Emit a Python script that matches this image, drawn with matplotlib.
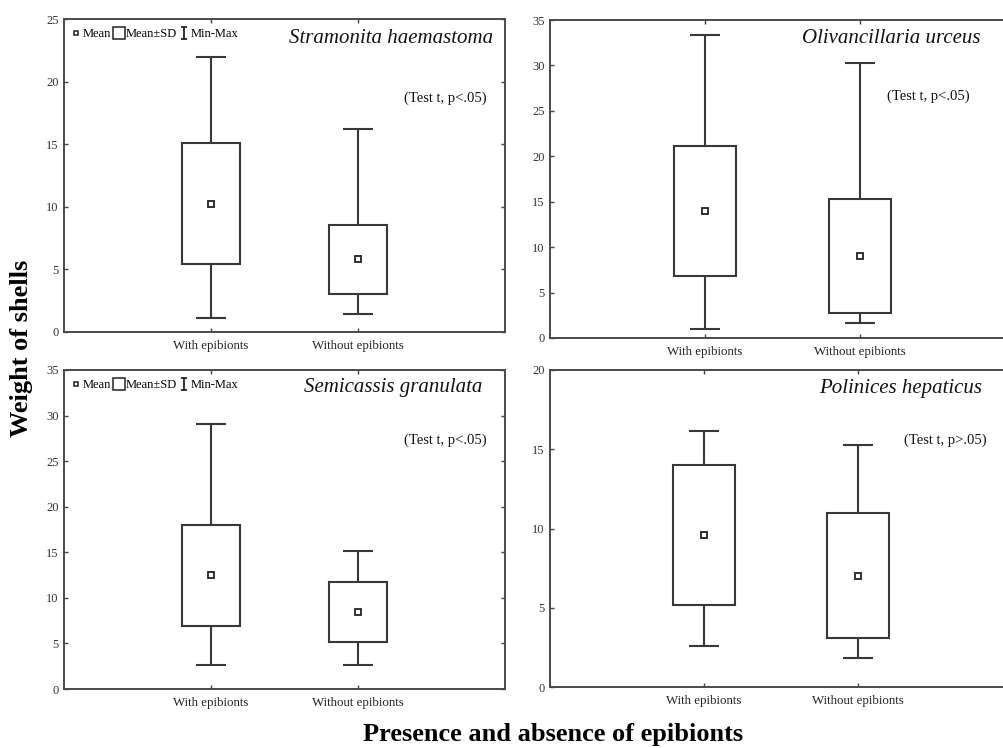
import matplotlib
matplotlib.use("Agg")
import matplotlib.pyplot as plt
from matplotlib.lines import Line2D
from matplotlib.path import Path

plt.rcParams["font.family"] = ["Liberation Serif", "DejaVu Serif"]

groups = ["With epibionts", "Without epibionts"]

species = ["Stramonita haemastoma", "Olivancillaria urceus",
           "Semicassis granulata", "Polinices hepaticus"]
tests = ["(Test t, p<.05)", "(Test t, p<.05)", "(Test t, p<.05)", "(Test t, p>.05)"]

# mean, standard deviation, min and max per species (with / without epibionts)
means = [[10.23, 5.80], [13.95, 9.03], [12.46, 8.45], [9.61, 7.03]]
sds = [[4.83, 2.78], [7.16, 6.30], [5.52, 3.34], [4.42, 3.94]]
mins = [[1.14, 1.41], [1.03, 1.69], [2.63, 2.63], [2.57, 1.81]]
maxs = [[21.98, 16.20], [33.35, 30.26], [29.05, 15.15], [16.13, 15.29]]

ymax = [25, 35, 35, 20]
has_legend = [True, False, True, False]

W, H = 1004, 748
# axes boxes in pixels: left, top, right, bottom
boxes = [(64, 19, 505, 332), (550, 20, 1015, 338),
         (64, 370, 505, 689), (550, 370, 1012, 687)]
title_pos = [(0.973, 0.939), (0.925, 0.943), (0.948, 0.944), (0.935, 0.943)]
test_pos = [(0.959, 0.748), (0.903, 0.761), (0.959, 0.78), (0.946, 0.779)]

ink = "#383838"
fig = plt.figure(figsize=(W / 100, H / 100), dpi=100)

ibeam = Path([(-0.5, 1), (0.5, 1), (0, 1), (0, -1), (-0.5, -1), (0.5, -1)],
             [Path.MOVETO, Path.LINETO, Path.MOVETO, Path.LINETO, Path.MOVETO, Path.LINETO])

for i in range(4):
    l, t, r, b = boxes[i]
    ax = fig.add_axes([l / W, (H - b) / H, (r - l) / W, (b - t) / H])
    xs = [1, 2]
    m = means[i]
    lo = [m[k] - mins[i][k] for k in range(2)]
    hi = [maxs[i][k] - m[k] for k in range(2)]
    ax.errorbar(xs, m, yerr=[lo, hi], fmt="none", ecolor=ink, elinewidth=1.5,
                capsize=10.5, capthick=1.5, zorder=1)
    ax.bar(xs, [2 * s for s in sds[i]], bottom=[m[k] - sds[i][k] for k in range(2)],
           width=0.4, facecolor="white", edgecolor=ink, linewidth=1.5, zorder=2)
    ax.plot(xs, m, ls="none", marker="s", ms=4, mfc="white", mec="#222222",
            mew=1.3, zorder=3)

    ax.set_xlim(0, 3)
    ax.set_ylim(0, ymax[i])
    ax.set_xticks(xs)
    ax.set_xticklabels(groups, fontsize=9.3, color="#222222")
    ax.set_yticks(range(0, ymax[i] + 1, 5))
    ax.tick_params(axis="y", labelsize=9, labelcolor="#333333", direction="in",
                   length=3, width=1, right=True, color="#444444", pad=4)
    ax.tick_params(axis="x", direction="in", length=3, width=1, top=True,
                   color="#444444", pad=6)
    for sp in ax.spines.values():
        sp.set_color("#4a4a4a")
        sp.set_linewidth(1.4)

    ax.text(*title_pos[i], species[i], transform=ax.transAxes, ha="right",
            va="center", fontsize=15, style="italic", color="#111111")
    ax.text(*test_pos[i], tests[i], transform=ax.transAxes, ha="right",
            va="center", fontsize=10.5, color="#111111")

    if has_legend[i]:
        handles = [
            Line2D([], [], ls="none", marker="s", ms=3.5, mfc="white", mec="#222222", mew=1.1),
            Line2D([], [], ls="none", marker="s", ms=8.5, mfc="white", mec="#222222", mew=1.1),
            Line2D([], [], ls="none", marker=ibeam, ms=8.5, mec="#222222", mew=1.3),
        ]
        ax.legend(handles, ["Mean", "Mean\u00b1SD", "Min-Max"], loc="upper left",
                  bbox_to_anchor=(0.0, 0.99), ncol=3, frameon=False, fontsize=9,
                  handlelength=0.9, handletextpad=0.1, columnspacing=0.15,
                  borderpad=0.3, borderaxespad=0.2)

fig.text(22 / W, 1 - 348 / H, "Weight of shells", rotation=90, ha="center",
         va="center", fontsize=19, fontweight="bold")
fig.text(553 / W, 1 - 735 / H, "Presence and absence of epibionts", ha="center",
         va="center", fontsize=19, fontweight="bold")

fig.savefig("out.png", dpi=100)
